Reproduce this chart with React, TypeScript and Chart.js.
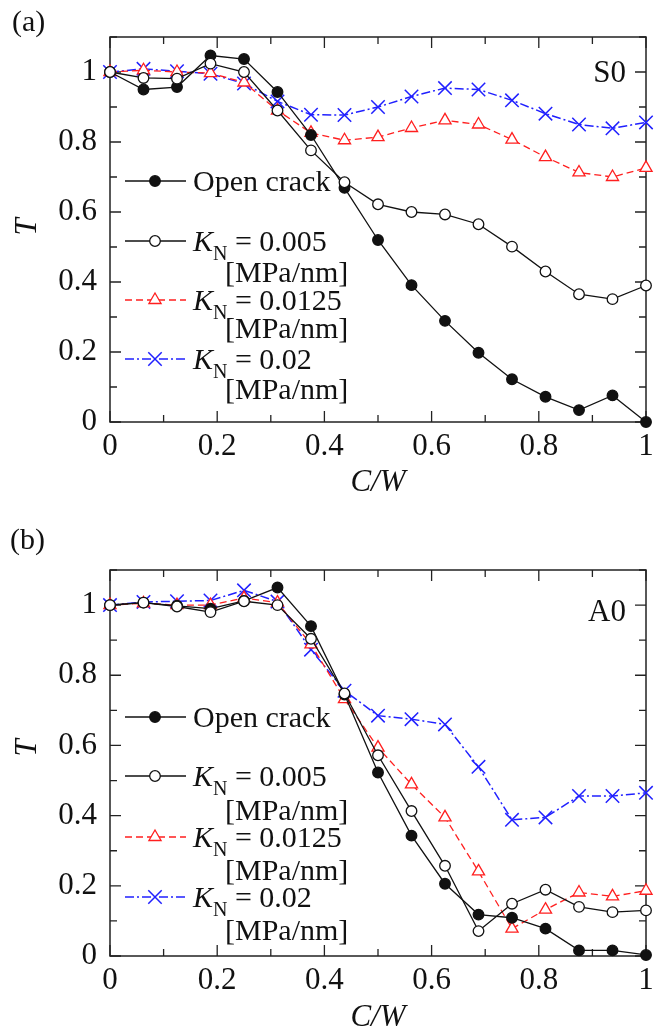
import React, { useEffect, useRef } from 'react';
import { Chart, registerables } from 'chart.js';

Chart.register(...registerables);

// Normalised crack length C/W
const CW = [0, 0.0625, 0.125, 0.1875, 0.25, 0.3125, 0.375, 0.4375, 0.5, 0.5625, 0.625, 0.6875, 0.75, 0.8125, 0.875, 0.9375, 1];

// Transmission coefficient T, S0 mode
const S0_OPEN = [1.0, 0.95, 0.957, 1.047, 1.037, 0.943, 0.82, 0.669, 0.52, 0.391, 0.289, 0.198, 0.122, 0.072, 0.034, 0.076, 0.0];
const S0_KN005 = [1.0, 0.983, 0.981, 1.024, 1.0, 0.89, 0.776, 0.685, 0.622, 0.6, 0.593, 0.565, 0.501, 0.43, 0.365, 0.351, 0.39];
const S0_KN0125 = [1.0, 1.005, 1.0, 0.997, 0.97, 0.89, 0.826, 0.805, 0.814, 0.84, 0.862, 0.85, 0.807, 0.757, 0.713, 0.7, 0.726];
const S0_KN02 = [1.0, 1.009, 1.002, 0.995, 0.967, 0.916, 0.878, 0.877, 0.9, 0.93, 0.954, 0.95, 0.919, 0.881, 0.85, 0.839, 0.856];

// Transmission coefficient T, A0 mode
const A0_OPEN = [1.0, 1.007, 0.998, 0.99, 1.012, 1.05, 0.94, 0.745, 0.523, 0.343, 0.206, 0.118, 0.109, 0.078, 0.016, 0.016, 0.003];
const A0_KN005 = [1.0, 1.007, 0.996, 0.98, 1.011, 1.0, 0.904, 0.748, 0.572, 0.413, 0.257, 0.071, 0.149, 0.189, 0.14, 0.125, 0.13];
const A0_KN0125 = [1.0, 1.005, 1.0, 1.0, 1.02, 1.007, 0.888, 0.732, 0.594, 0.489, 0.395, 0.241, 0.078, 0.132, 0.181, 0.17, 0.186];
const A0_KN02 = [1.0, 1.009, 1.011, 1.013, 1.042, 1.01, 0.873, 0.756, 0.685, 0.675, 0.66, 0.539, 0.388, 0.395, 0.456, 0.456, 0.465];

// Legend texts
const OPEN_LABEL = 'Open crack';
const KN_VALUES = ['0.005', '0.0125', '0.02'];
const KN_UNIT = '[MPa/nm]';

// Axis ranges
const X_MIN = 0;
const X_MAX = 1;
const Y_MIN = 0;
const Y_MAX = 1.1;
const TICK_STEP = 0.1;

const SERIF = '"Liberation Serif", "Times New Roman", serif';
const W = 657;
const H = 515;

type SeriesStyle = {
  color: string;
  dash: number[];
  pointStyle: 'circle' | 'triangle' | 'crossRot';
  radius: number;
  fill: string;
  width: number;
};

const STYLE_OPEN: SeriesStyle = { color: '#111', dash: [], pointStyle: 'circle', radius: 5.3, fill: '#111', width: 1.3 };
const STYLE_KN005: SeriesStyle = { color: '#111', dash: [], pointStyle: 'circle', radius: 5.3, fill: '#fff', width: 1.3 };
const STYLE_KN0125: SeriesStyle = { color: '#ff1f1f', dash: [7, 4], pointStyle: 'triangle', radius: 7, fill: '#fff', width: 1.3 };
const STYLE_KN02: SeriesStyle = { color: '#2020ff', dash: [9, 3, 2, 3], pointStyle: 'crossRot', radius: 9.5, fill: 'rgba(0,0,0,0)', width: 1.5 };

type PanelCfg = {
  top: number;
  plotTop: number;
  plotBottom: number;
  tag: string;
  tagPos: [number, number];
  mode: string;
  modeY: number;
  yTitleY: number;
  xTitleY: number;
  rows: number[]; // open, kn005, unit, kn0125, unit, kn02, unit (offsets from plot top)
  series: { open: number[]; kn005: number[]; kn0125: number[]; kn02: number[] };
};

const PANEL_A: PanelCfg = {
  top: 0,
  plotTop: 37,
  plotBottom: 422,
  tag: '(a)',
  tagPos: [12, 23],
  mode: 'S0',
  modeY: 37,
  yTitleY: 227,
  xTitleY: 483,
  rows: [144, 204, 235, 263, 291, 322, 352],
  series: { open: S0_OPEN, kn005: S0_KN005, kn0125: S0_KN0125, kn02: S0_KN02 },
};

const PANEL_B: PanelCfg = {
  top: 515,
  plotTop: 55,
  plotBottom: 441,
  tag: '(b)',
  tagPos: [10, 26],
  mode: 'A0',
  modeY: 43,
  yTitleY: 233,
  xTitleY: 503,
  rows: [147, 206, 240, 267, 300, 327, 360],
  series: { open: A0_OPEN, kn005: A0_KN005, kn0125: A0_KN0125, kn02: A0_KN02 },
};

function tickLabel(v: number): string {
  const k = Math.round(v * 10);
  return k % 2 === 0 ? String(k / 10) : '';
}

function drawMarker(ctx: CanvasRenderingContext2D, s: SeriesStyle, x: number, y: number) {
  ctx.save();
  ctx.setLineDash([]);
  ctx.lineWidth = s.width;
  ctx.strokeStyle = s.color;
  ctx.fillStyle = s.fill;
  ctx.beginPath();
  if (s.pointStyle === 'circle') {
    ctx.arc(x, y, s.radius, 0, Math.PI * 2);
    ctx.fill();
    ctx.stroke();
  } else if (s.pointStyle === 'triangle') {
    let a = 0;
    ctx.moveTo(x + Math.sin(a) * s.radius, y - Math.cos(a) * s.radius);
    a += (2 * Math.PI) / 3;
    ctx.lineTo(x + Math.sin(a) * s.radius, y - Math.cos(a) * s.radius);
    a += (2 * Math.PI) / 3;
    ctx.lineTo(x + Math.sin(a) * s.radius, y - Math.cos(a) * s.radius);
    ctx.closePath();
    ctx.fill();
    ctx.stroke();
  } else {
    const d = s.radius * Math.SQRT1_2;
    ctx.moveTo(x - d, y - d);
    ctx.lineTo(x + d, y + d);
    ctx.moveTo(x + d, y - d);
    ctx.lineTo(x - d, y + d);
    ctx.stroke();
  }
  ctx.restore();
}

function legendSample(ctx: CanvasRenderingContext2D, s: SeriesStyle, y: number) {
  ctx.save();
  ctx.strokeStyle = s.color;
  ctx.lineWidth = s.width;
  ctx.setLineDash(s.dash);
  ctx.beginPath();
  ctx.moveTo(125, y);
  ctx.lineTo(186, y);
  ctx.stroke();
  ctx.restore();
  drawMarker(ctx, s, 155, y);
}

function makeDecorPlugin(cfg: PanelCfg) {
  return {
    id: 'decor',
    beforeDatasetsDraw(chart: any) {
      const ctx: CanvasRenderingContext2D = chart.ctx;
      const { left, right, top, bottom } = chart.chartArea;
      ctx.save();
      ctx.strokeStyle = '#222';
      ctx.lineWidth = 1.5;
      ctx.strokeRect(left, top, right - left, bottom - top);
      ctx.lineWidth = 1.3;
      ctx.beginPath();
      const xs = chart.scales.x;
      for (const t of xs.ticks) {
        const px = xs.getPixelForValue(t.value);
        const len = Math.round(t.value * 10) % 2 === 0 ? 11 : 7;
        ctx.moveTo(px, bottom);
        ctx.lineTo(px, bottom - len);
        ctx.moveTo(px, top);
        ctx.lineTo(px, top + len);
      }
      const ys = chart.scales.y;
      for (const t of ys.ticks) {
        const py = ys.getPixelForValue(t.value);
        const len = Math.round(t.value * 10) % 2 === 0 ? 11 : 7;
        ctx.moveTo(left, py);
        ctx.lineTo(left + len, py);
        ctx.moveTo(right, py);
        ctx.lineTo(right - len, py);
      }
      ctx.stroke();
      ctx.restore();
    },
    afterDraw(chart: any) {
      const ctx: CanvasRenderingContext2D = chart.ctx;
      const { left, right, top } = chart.chartArea;
      ctx.save();
      ctx.fillStyle = '#111';
      ctx.textBaseline = 'middle';

      // panel tag
      ctx.font = `30px ${SERIF}`;
      ctx.textAlign = 'left';
      ctx.fillText(cfg.tag, cfg.tagPos[0], cfg.tagPos[1]);

      // wave mode label
      ctx.font = `31px ${SERIF}`;
      ctx.textAlign = 'right';
      ctx.fillText(cfg.mode, right - 20, top + cfg.modeY);

      // axis titles
      ctx.font = `italic 31px ${SERIF}`;
      ctx.textAlign = 'center';
      ctx.fillText('C/W', (left + right) / 2, cfg.xTitleY);
      ctx.save();
      ctx.translate(28, cfg.yTitleY);
      ctx.rotate(-Math.PI / 2);
      ctx.fillText('T', 0, 0);
      ctx.restore();

      // legend
      const r = cfg.rows.map((v) => top + v);
      const styles = [STYLE_KN005, STYLE_KN0125, STYLE_KN02];
      legendSample(ctx, STYLE_OPEN, r[0]);
      ctx.textAlign = 'left';
      ctx.textBaseline = 'alphabetic';
      ctx.font = `30px ${SERIF}`;
      ctx.fillText(OPEN_LABEL, 193, r[0] + 10);
      for (let i = 0; i < 3; i++) {
        const y = r[1 + i * 2];
        legendSample(ctx, styles[i], y);
        let x = 193;
        ctx.font = `italic 30px ${SERIF}`;
        ctx.fillText('K', x, y + 10);
        x += ctx.measureText('K').width;
        ctx.font = `20px ${SERIF}`;
        ctx.fillText('N', x, y + 19);
        x += ctx.measureText('N').width;
        ctx.font = `30px ${SERIF}`;
        ctx.fillText(` = ${KN_VALUES[i]}`, x, y + 10);
        ctx.fillText(KN_UNIT, 225, r[2 + i * 2] + 10);
      }
      ctx.restore();
    },
  };
}

function dataset(label: string, values: number[], s: SeriesStyle) {
  return {
    label,
    data: CW.map((x, i) => ({ x, y: values[i] })),
    borderColor: s.color,
    borderWidth: s.width,
    borderDash: s.dash,
    pointStyle: s.pointStyle,
    pointRadius: s.radius,
    pointBackgroundColor: s.fill,
    pointBorderColor: s.color,
    pointBorderWidth: s.width,
    tension: 0,
    fill: false,
    clip: false,
  };
}

function Panel({ cfg }: { cfg: PanelCfg }) {
  const ref = useRef<HTMLCanvasElement>(null);
  useEffect(() => {
    if (!ref.current) return;
    const tickFont = { family: SERIF, size: 31 };
    const chart = new Chart(ref.current, {
      type: 'line',
      data: {
        datasets: [
          dataset(`KN = ${KN_VALUES[0]}`, cfg.series.kn005, STYLE_KN005),
          dataset(OPEN_LABEL, cfg.series.open, STYLE_OPEN),
          dataset(`KN = ${KN_VALUES[1]}`, cfg.series.kn0125, STYLE_KN0125),
          dataset(`KN = ${KN_VALUES[2]}`, cfg.series.kn02, STYLE_KN02),
        ],
      },
      options: {
        responsive: false,
        animation: false,
        events: [],
        layout: { padding: { top: cfg.plotTop, right: 6, left: 0, bottom: 0 } },
        plugins: { legend: { display: false }, tooltip: { enabled: false } },
        scales: {
          x: {
            type: 'linear',
            min: X_MIN,
            max: X_MAX,
            grid: { display: false, drawTicks: false },
            border: { display: false },
            ticks: { stepSize: TICK_STEP, autoSkip: false, maxRotation: 0, padding: 6, color: '#111', font: tickFont, callback: (v: any) => tickLabel(Number(v)) },
            afterFit: (s: any) => {
              s.height = H - cfg.plotBottom;
              s.paddingLeft = 0;
              s.paddingRight = 0;
            },
          },
          y: {
            type: 'linear',
            min: Y_MIN,
            max: Y_MAX,
            grid: { display: false, drawTicks: false },
            border: { display: false },
            ticks: { stepSize: TICK_STEP, autoSkip: false, padding: 13, color: '#111', font: tickFont, callback: (v: any) => tickLabel(Number(v)) },
            afterFit: (s: any) => {
              s.width = 110;
              s.paddingTop = 0;
              s.paddingBottom = 0;
            },
          },
        },
      } as any,
      plugins: [makeDecorPlugin(cfg)],
    });
    return () => chart.destroy();
  }, [cfg]);
  return (
    <div style={{ position: 'absolute', left: 0, top: cfg.top, width: W, height: H }}>
      <canvas ref={ref} width={W} height={H} style={{ display: 'block', width: W, height: H }} />
    </div>
  );
}

export default function App() {
  return (
    <div style={{ position: 'absolute', left: 0, top: 0, width: W, height: 1030, overflow: 'hidden', background: '#fff' }}>
      <Panel cfg={PANEL_A} />
      <Panel cfg={PANEL_B} />
    </div>
  );
}
